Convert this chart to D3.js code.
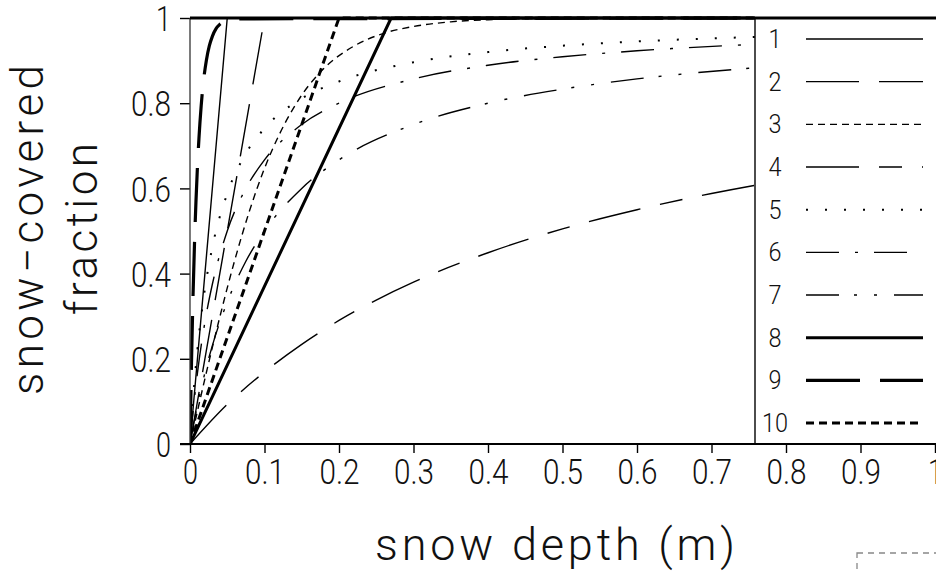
<!DOCTYPE html>
<html><head><meta charset="utf-8">
<script src="https://cdn.jsdelivr.net/npm/d3@7"></script>
<style>
body{margin:0;background:#fff}
text{font-family:Roboto,"Liberation Sans",sans-serif;font-weight:300;fill:#111}
</style>
</head><body>
<svg id="c" width="936" height="574"></svg>
<script>
// ---- data ----
const xTicks = [0,0.1,0.2,0.3,0.4,0.5,0.6,0.7,0.8,0.9,1];
const yTicks = [0,0.2,0.4,0.6,0.8,1];
const seriesNames = ["1","2","3","4","5","6","7","8","9","10"];

const depth1 = [0,0.05,1];          const frac1 = [0,1,1];
const depth2 = [0,0.1,1];           const frac2 = [0,1,1];
const depth3 = [0,0.02,0.04,0.06,0.08,0.1,0.12,0.15,0.18,0.22,0.26,0.3,0.35,0.4,0.5,0.6,0.76,1];
const frac3  = [0,0.153,0.298,0.431,0.548,0.647,0.727,0.819,0.882,0.934,0.964,0.980,0.991,0.996,0.999,1,1,1];
const depth4 = [0,0.05,0.1,0.15,0.2,0.25,0.3,0.4,0.5,0.6,0.7,0.8,0.9,1];
const frac4  = [0,0.093,0.169,0.234,0.290,0.338,0.380,0.449,0.505,0.550,0.588,0.620,0.647,0.671];
const depth5 = [0,0.005,0.01,0.02,0.03,0.05,0.075,0.1,0.15,0.2,0.3,0.4,0.5,0.6,0.75,1];
const frac5  = [0,0.125,0.222,0.364,0.462,0.588,0.682,0.741,0.811,0.851,0.896,0.920,0.935,0.945,0.955,0.966];
const depth6 = [0,0.005,0.01,0.02,0.03,0.05,0.075,0.1,0.15,0.2,0.3,0.4,0.5,0.6,0.75,1];
const frac6  = [0,0.091,0.167,0.286,0.375,0.5,0.6,0.667,0.75,0.8,0.857,0.889,0.909,0.923,0.9375,0.952];
const depth7 = [0,0.005,0.01,0.02,0.03,0.05,0.075,0.1,0.15,0.2,0.3,0.4,0.5,0.6,0.75,1];
const frac7  = [0,0.048,0.091,0.167,0.231,0.333,0.429,0.5,0.6,0.667,0.75,0.8,0.833,0.857,0.882,0.909];
const depth8 = [0,0.27,1];          const frac8 = [0,1,1];
const depth9 = [0,0.002,0.004,0.006,0.008,0.01,0.012,0.015,0.018,0.022,0.026,0.03,0.035,0.04,0.045,0.05,0.06,1];
const frac9  = [0,0.19,0.344,0.468,0.569,0.651,0.717,0.794,0.850,0.901,0.935,0.957,0.975,0.985,0.991,0.995,0.998,1];
const depth10 = [0,0.2,1];          const frac10 = [0,1,1];

const depths = [depth1,depth2,depth3,depth4,depth5,depth6,depth7,depth8,depth9,depth10];
const fracs  = [frac1,frac2,frac3,frac4,frac5,frac6,frac7,frac8,frac9,frac10];

// ---- styles ----
const styles = [
  {w:1.4, dash:null},
  {w:1.4, dash:"53,20"},
  {w:1.4, dash:"7,5"},
  {w:1.4, dash:"53,20,23,20"},
  {w:2.0, dash:"2,17"},
  {w:1.4, dash:"33,16,3,16"},
  {w:1.4, dash:"33,15,3,17,3,17"},
  {w:3.0, dash:null},
  {w:3.2, dash:"54,20"},
  {w:3.0, dash:"8,5"}
];
const curveType = [d3.curveLinear,d3.curveLinear,d3.curveMonotoneX,d3.curveMonotoneX,d3.curveMonotoneX,
                   d3.curveMonotoneX,d3.curveMonotoneX,d3.curveLinear,d3.curveMonotoneX,d3.curveLinear];

const svg = d3.select("#c");
const x = d3.scaleLinear().domain([0,1]).range([190,935]);
const y = d3.scaleLinear().domain([0,1]).range([444,18]);
const legendX = 755;

svg.append("defs").append("clipPath").attr("id","plot")
  .append("rect").attr("x",190).attr("y",10).attr("width",legendX-190).attr("height",440);

const g = svg.append("g").attr("clip-path","url(#plot)");
depths.forEach((dx,i)=>{
  const pts = dx.map((d,j)=>[d,fracs[i][j]]);
  const line = d3.line().x(d=>x(d[0])).y(d=>y(d[1])).curve(curveType[i]);
  g.append("path").attr("d",line(pts)).attr("fill","none").attr("stroke","#000")
    .attr("stroke-width",styles[i].w).attr("stroke-dasharray",styles[i].dash)
    .attr("stroke-linejoin","round");
});

// narrow label widths (glyph width per char)
const labelLen = s => s.split("").reduce((a,c)=>a+(c==="."?10:15),0);

// axes
const fmt = d => (d===0?"0":d===1?"1":d3.format(".1f")(d));
const xa = svg.append("g").attr("transform","translate(0,444)")
  .call(d3.axisBottom(x).tickValues(xTicks).tickSize(9).tickFormat(fmt));
xa.select(".domain").remove();
xa.selectAll(".tick line").attr("stroke","#000").attr("stroke-width",1.4);
xa.selectAll("text").attr("y",40).attr("dy",null).attr("font-size",35).attr("fill","#111")
  .attr("textLength",function(){return labelLen(this.textContent);}).attr("lengthAdjust","spacingAndGlyphs");

const ya = svg.append("g").attr("transform","translate(190,0)")
  .call(d3.axisLeft(y).tickValues(yTicks).tickSize(10).tickFormat(fmt));
ya.select(".domain").remove();
ya.selectAll(".tick line").attr("stroke","#000").attr("stroke-width",1.4);
ya.selectAll("text").attr("x",-19).attr("dy","0.36em").attr("font-size",35).attr("fill","#111")
  .attr("textLength",function(){return labelLen(this.textContent);}).attr("lengthAdjust","spacingAndGlyphs");

// frame lines
svg.append("line").attr("x1",190).attr("x2",190).attr("y1",18).attr("y2",444).attr("stroke","#333").attr("stroke-width",1.3);
svg.append("line").attr("x1",180).attr("x2",936).attr("y1",444).attr("y2",444).attr("stroke","#000").attr("stroke-width",2);
svg.append("line").attr("x1",190).attr("x2",936).attr("y1",18).attr("y2",18).attr("stroke","#000").attr("stroke-width",3);

// legend
svg.append("line").attr("x1",legendX).attr("x2",legendX).attr("y1",18).attr("y2",444).attr("stroke","#000").attr("stroke-width",1.4);
const legY = d3.scalePoint().domain(seriesNames).range([39,423]);
seriesNames.forEach((n,i)=>{
  const yy = legY(n);
  svg.append("text").attr("x",775).attr("y",yy+9).attr("text-anchor","middle").attr("font-size",26)
    .attr("textLength",n.length*13).attr("lengthAdjust","spacingAndGlyphs").text(n);
  svg.append("line").attr("x1",806).attr("x2",923).attr("y1",yy).attr("y2",yy)
    .attr("stroke","#000").attr("stroke-width",styles[i].w).attr("stroke-dasharray",styles[i].dash);
});

// titles
svg.append("text").attr("transform","translate(43,230) rotate(-90)").attr("text-anchor","middle")
  .attr("font-size",44).attr("textLength",330).attr("lengthAdjust","spacing").text("snow\u2212covered");
svg.append("text").attr("transform","translate(97,229) rotate(-90)").attr("text-anchor","middle")
  .attr("font-size",44).attr("textLength",172).attr("lengthAdjust","spacing").text("fraction");
svg.append("text").attr("x",555).attr("y",560).attr("text-anchor","middle")
  .attr("font-size",45).attr("textLength",360).attr("lengthAdjust","spacing").text("snow depth (m)");

// partial box at bottom right
svg.append("rect").attr("x",857).attr("y",553).attr("width",100).attr("height",40)
  .attr("fill","none").attr("stroke","#888").attr("stroke-width",1.3).attr("stroke-dasharray","6,5");
</script>
</body></html>
